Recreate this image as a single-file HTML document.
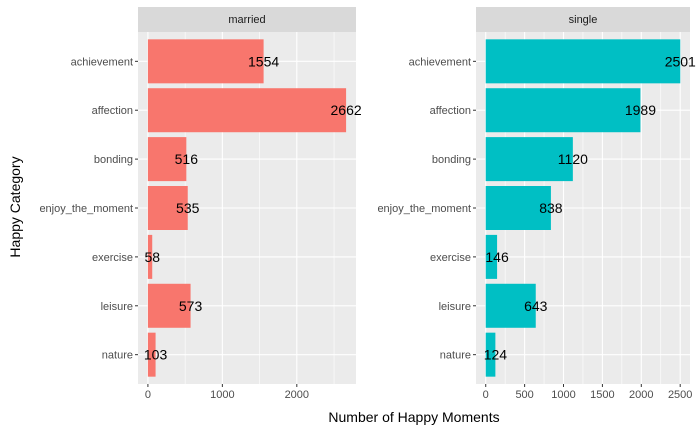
<!DOCTYPE html>
<html><head><meta charset="utf-8"><style>body{margin:0;background:#fff}svg{font-family:"Liberation Sans",sans-serif}</style></head>
<body>
<svg id="c" width="700" height="432"></svg>
<script>
const categories=["achievement","affection","bonding","enjoy_the_moment","exercise","leisure","nature"];
const marriedValues=[1554,2662,516,535,58,573,103];
const singleValues=[2501,1989,1120,838,146,643,124];
const marriedTicks=[0,1000,2000];
const singleTicks=[0,500,1000,1500,2000,2500];
const NS="http://www.w3.org/2000/svg",svgRoot=document.getElementById('c');
function el(t,a,p){const e=document.createElementNS(NS,t);for(const k in a)e.setAttribute(k,a[k]);(p||svgRoot).appendChild(e);return e;}
const plotTop=32,plotBot=384;
function yPos(i){return plotTop+(i+0.6)*(plotBot-plotTop)/7.2;}
const bw=0.9*(plotBot-plotTop)/7.2;
function panel(name,x0,x1,vals,ticks,color){
  const g=el('g',{});
  
  
  const max=Math.max(...vals),lo=-0.05*max,hi=1.05*max;
  const sx=v=>x0+(v-lo)/(hi-lo)*(x1-x0);
  const s=el('rect',{x:x0,y:7,width:x1-x0,height:25,fill:'#d9d9d9'},g);
  
  
  const st=el('text',{x:(x0+x1)/2,y:23,'text-anchor':'middle','font-size':11,fill:'#1a1a1a'},g);st.textContent=name;
  
  
  el('rect',{x:x0,y:plotTop,width:x1-x0,height:plotBot-plotTop,fill:'#ebebeb'},g);
  const step=ticks[1]-ticks[0];
  for(let i=0;i<ticks.length;i++){
    const m=ticks[i]+step/2;
    if(m<hi)el('line',{x1:sx(m),x2:sx(m),y1:plotTop,y2:plotBot,stroke:'#fff','stroke-width':0.6},g);
    const xx=sx(ticks[i]);
    el('line',{x1:xx,x2:xx,y1:plotTop,y2:plotBot,stroke:'#fff','stroke-width':1.1},g);
    el('line',{x1:xx,x2:xx,y1:plotBot,y2:plotBot+3,stroke:'#333'},g);
    const t=el('text',{x:xx,y:plotBot+14,'text-anchor':'middle','font-size':11,fill:'#4d4d4d'},g);t.textContent=ticks[i];
    
    
  }
  categories.forEach((c,i)=>{
    const yy=yPos(i);
    el('line',{x1:x0,x2:x1,y1:yy,y2:yy,stroke:'#fff','stroke-width':1.1},g);
    el('line',{x1:x0-3,x2:x0,y1:yy,y2:yy,stroke:'#333'},g);
    const t=el('text',{x:x0-5,y:yy+4,'text-anchor':'end','font-size':11,fill:'#4d4d4d'},g);t.textContent=c;
    
    
  });
  vals.forEach((v,i)=>{
    const r=el('rect',{x:sx(0),y:yPos(i)-bw/2,width:sx(v)-sx(0),height:bw,fill:color},g);
    
    
  });
  vals.forEach((v,i)=>{
    const t=el('text',{x:sx(v),y:yPos(i)+5,'text-anchor':'middle','font-size':14,fill:'#000'},g);t.textContent=v;
    
    
  });
}
panel('married',138,356,marriedValues,marriedTicks,'#f8766d');
panel('single',476,690,singleValues,singleTicks,'#00bfc4');
const xt=el('text',{x:414,y:422,'text-anchor':'middle','font-size':14,fill:'#000'});xt.textContent='Number of Happy Moments';


const yt=el('text',{x:0,y:0,transform:'translate(20,207) rotate(-90)','text-anchor':'middle','font-size':14,fill:'#000'});yt.textContent='Happy Category';


</script>
</body></html>
